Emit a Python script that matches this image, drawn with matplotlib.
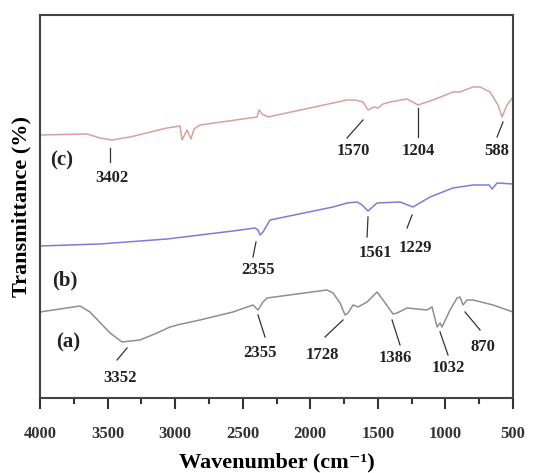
"""
FTIR spectra (a), (b), (c) – stacked transmittance traces with peak labels.
"""

import numpy as np
import matplotlib.pyplot as plt
from matplotlib.ticker import MultipleLocator

# ── DATA ──────────────────────────────────────────────────────────────────────
# trace (c) – top, pink/red
wn_c = [4000, 3652, 3556, 3467, 3334, 3060, 2964, 2949, 2912, 2883, 2860, 2816,
        2394, 2379, 2357, 2313, 1728, 1669, 1610, 1573, 1528, 1498, 1462, 1410,
        1284, 1203, 1092, 944, 892, 855, 796, 744, 670, 611, 581, 544, 500]
t_c = [263, 264, 260, 258, 261, 270, 272, 258, 268, 259, 269, 273,
       281, 288, 284, 281, 298, 298, 296, 288, 291, 290, 294, 296,
       299, 293, 298, 306, 306, 308, 311, 311, 306, 293, 281, 293, 301]

# trace (b) – middle, blue
wn_b = [4000, 3556, 3060, 2572, 2409, 2387, 2372, 2350, 2298, 1832, 1728, 1654,
        1617, 1573, 1506, 1336, 1240, 1114, 944, 796, 677, 655, 618, 500]
t_b = [152, 154, 159, 167, 170, 168, 163, 166, 178, 191, 195, 196,
       193, 187, 195, 196, 191, 201, 210, 213, 213, 209, 215, 214]

# trace (a) – bottom, grey
wn_a = [4000, 3704, 3630, 3482, 3393, 3260, 3134, 3038, 3008, 2986, 2816, 2572,
        2424, 2387, 2350, 2320, 1876, 1832, 1780, 1743, 1721, 1684, 1647, 1580,
        1506, 1462, 1388, 1358, 1284, 1136, 1099, 1062, 1040, 1025, 966, 914,
        892, 870, 840, 796, 648, 500]
t_a = [86, 92, 86, 65, 56, 58, 65, 71, 72, 73, 78, 86,
       93, 88, 96, 100, 108, 105, 95, 83, 85, 93, 91, 96,
       106, 98, 84, 85, 90, 88, 91, 71, 75, 71, 88, 100,
       101, 93, 98, 98, 93, 86]

# peak labels: text, tick line start, tick line end, text position
peak_text  = ["3402", "1570", "1204", "588",
              "2355", "1561", "1229",
              "3352", "2355", "1728", "1386", "1032", "870"]
peak_from  = [(3482, 250), (1610, 278), (1203, 290), (574, 276),
              (2402, 156), (1573, 181), (1247, 183),
              (3356, 50), (2387, 83), (1758, 78), (1395, 78), (1040, 66), (855, 86)]
peak_to    = [(3482, 236), (1728, 260), (1203, 261), (618, 261),
              (2424, 141), (1580, 161), (1284, 170),
              (3430, 38), (2335, 61), (1891, 61), (1336, 53), (981, 43), (744, 68)]
peak_pos   = [(3467, 220), (1684, 247), (1203, 247), (618, 247),
              (2387, 128), (1521, 145), (1225, 150),
              (3408, 20), (2372, 45), (1913, 43), (1373, 40), (981, 30), (722, 51)]

trace_tags = ["(c)", "(b)", "(a)"]
tag_pos    = [(3837, 238), (3815, 118), (3793, 55)]
# ─────────────────────────────────────────────────────────────────────────────

plt.rcParams["font.family"] = ["Liberation Serif", "DejaVu Serif"]
plt.rcParams["font.weight"] = "bold"

fig = plt.figure(figsize=(5.34, 4.73), dpi=100)
ax = fig.add_axes([0.0749, 0.1586, 0.8858, 0.8097])

ax.plot(wn_c, t_c, color="#d9a0a0", lw=1.1)
ax.plot(wn_b, t_b, color="#7d7dd8", lw=1.1)
ax.plot(wn_a, t_a, color="#8f8f8f", lw=1.1)

for txt, p0, p1, pt in zip(peak_text, peak_from, peak_to, peak_pos):
    ax.plot([p0[0], p1[0]], [p0[1], p1[1]], color="#333333", lw=0.9)
    ax.text(pt[0], pt[1], txt, ha="center", va="center", fontsize=12,
            fontweight="bold", color="#222222")

for tag, pos in zip(trace_tags, tag_pos):
    ax.text(pos[0], pos[1], tag, ha="center", va="center", fontsize=15,
            fontweight="bold", color="#222222")

ax.set_xlim(4000, 500)
ax.set_ylim(0, 383)
ax.set_yticks([])
ax.xaxis.set_major_locator(MultipleLocator(500))
ax.xaxis.set_minor_locator(MultipleLocator(250))
ax.tick_params(axis="x", which="major", direction="out", length=8, width=1.5,
               labelsize=12, pad=12, colors="#333333")
ax.tick_params(axis="x", which="minor", direction="out", length=4.5, width=1.5,
               colors="#333333")
for lab in ax.get_xticklabels():
    lab.set_fontweight("bold")
for sp in ax.spines.values():
    sp.set_linewidth(1.5)
    sp.set_color("#444444")

ax.set_xlabel("Wavenumber (cm\u207b\u00b9)", fontsize=16, fontweight="bold",
              labelpad=8)
ax.set_ylabel("Transmittance (%)", fontsize=16, fontweight="bold", labelpad=6)

fig.savefig("out.png", dpi=100)
